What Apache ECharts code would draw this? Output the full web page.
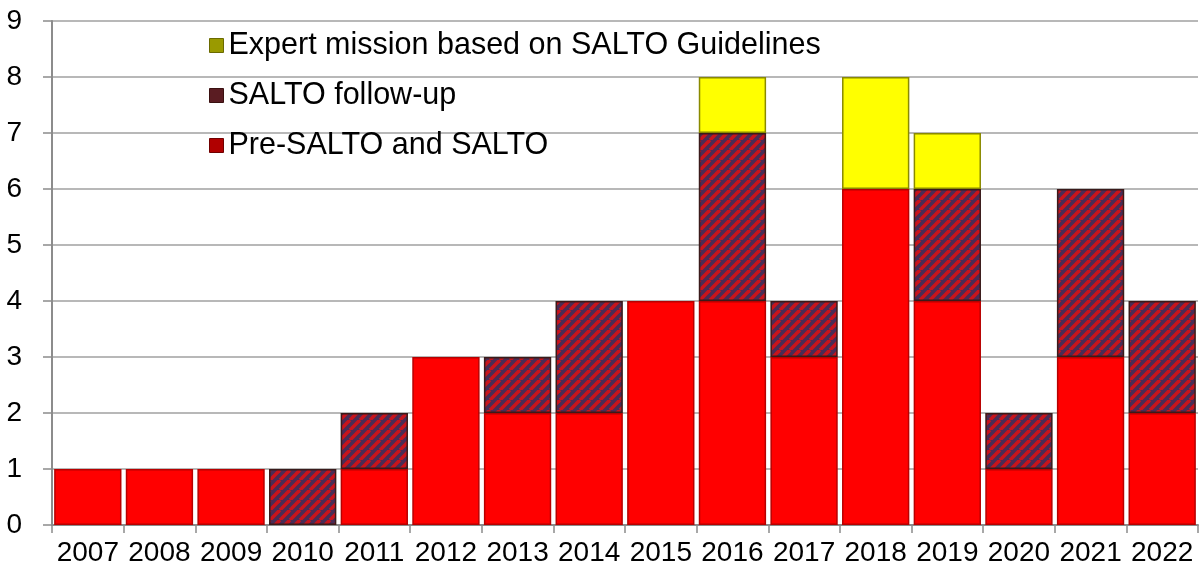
<!DOCTYPE html>
<html><head><meta charset="utf-8">
<script src="https://cdn.jsdelivr.net/npm/echarts@6/dist/echarts.min.js"></script>
<style>html,body{margin:0;padding:0;background:#fff}#c{width:1203px;height:579px}</style>
</head><body><div id="c"></div>
<script>
var years = ['2007','2008','2009','2010','2011','2012','2013','2014','2015','2016','2017','2018','2019','2020','2021','2022'];
var preSalto = [1,1,1,0,1,3,2,2,4,4,3,6,4,1,3,2];
var followUp = [0,0,0,1,1,0,1,2,0,3,1,0,2,1,3,2];
var expert = [0,0,0,0,0,0,0,0,0,1,0,2,1,0,0,0];
var yTicks = [0,1,2,3,4,5,6,7,8,9];

function nz(a){return a.map(function(v){return v===0?null:v;});}

function hatch(){
  var s = 10;
  var c = document.createElement('canvas');
  c.width = s; c.height = s;
  var g = c.getContext('2d');
  g.fillStyle = '#4a2c55';
  g.fillRect(0,0,s,s);
  g.strokeStyle = '#c8141c';
  g.lineWidth = 3.6;
  for (var k=-2;k<=2;k++){
    g.beginPath();
    g.moveTo(k*s, s);
    g.lineTo(k*s + s, 0);
    g.stroke();
  }
  return {image:c, repeat:'repeat'};
}

var chart = echarts.init(document.getElementById('c'));
var font = '"Liberation Sans", Arial, sans-serif';
chart.setOption({
  animation:false,
  grid:{left:52,right:5,top:21,bottom:54},
  legend:{
    orient:'vertical', left:204, top:25, icon:'rect', itemWidth:14, itemHeight:14, itemGap:19,
    textStyle:{fontFamily:font,fontSize:30.5,lineHeight:30,color:'#000',padding:[0,0,0,0]},
    data:[
      {name:'Expert mission based on SALTO Guidelines', itemStyle:{color:'#9a9a00',borderColor:'#6a6a00',borderWidth:1}},
      {name:'SALTO follow-up', itemStyle:{color:'#5a1c22',borderColor:'#3a1010',borderWidth:1}},
      {name:'Pre-SALTO and SALTO', itemStyle:{color:'#b00000',borderColor:'#700000',borderWidth:1}}
    ]
  },
  xAxis:{
    type:'category', data:years,
    axisLine:{lineStyle:{color:'#8c8c8c',width:2}},
    axisTick:{show:true,length:8,lineStyle:{color:'#8c8c8c',width:1.5}},
    axisLabel:{fontFamily:font,fontSize:28,color:'#000',margin:14,interval:0,hideOverlap:false}
  },
  yAxis:{
    type:'value', min:0, max:9, interval:1,
    axisLine:{show:true,lineStyle:{color:'#8c8c8c',width:2}},
    axisTick:{show:true,length:9,lineStyle:{color:'#8c8c8c',width:1.5}},
    splitLine:{lineStyle:{color:'#a0a0a0',width:1.5}},
    axisLabel:{fontFamily:font,fontSize:28,color:'#000',margin:30,
      formatter:function(v){return yTicks.indexOf(v)>=0?String(v):'';}}
  },
  series:[
    {name:'Pre-SALTO and SALTO', type:'bar', stack:'a', barCategoryGap:'6%',
     data:nz(preSalto), itemStyle:{color:'#ff0000',borderColor:'#b80000',borderWidth:1.5}},
    {name:'SALTO follow-up', type:'bar', stack:'a',
     data:nz(followUp), itemStyle:{color:hatch(),borderColor:'#3a1a1a',borderWidth:1.5}},
    {name:'Expert mission based on SALTO Guidelines', type:'bar', stack:'a',
     data:nz(expert), itemStyle:{color:'#ffff00',borderColor:'#8a8a00',borderWidth:1.5}}
  ]
});
</script></body></html>
